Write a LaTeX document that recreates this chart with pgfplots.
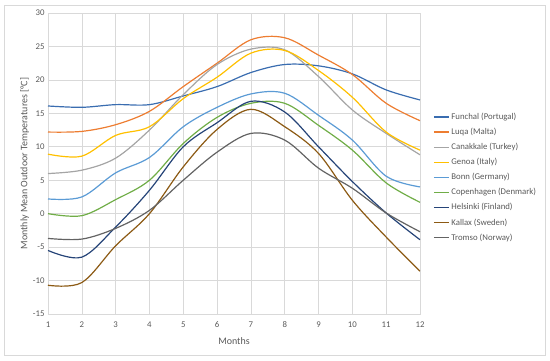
\documentclass[border=0pt]{standalone}
\usepackage{pgfplots}
\pgfplotsset{compat=1.18}
\usepackage{fontspec}
\setmainfont{Carlito}
\definecolor{cFun}{HTML}{3A6DB0}
\definecolor{cLuq}{HTML}{ED7D31}
\definecolor{cCan}{HTML}{A5A5A5}
\definecolor{cGen}{HTML}{FFC000}
\definecolor{cBon}{HTML}{5B9BD5}
\definecolor{cCop}{HTML}{70AD47}
\definecolor{cHel}{HTML}{264478}
\definecolor{cKal}{HTML}{8C5A14}
\definecolor{cTro}{HTML}{636363}
\definecolor{gridc}{HTML}{D9D9D9}
\definecolor{txt}{HTML}{595959}
\newcommand{\lt}[1]{\textcolor{txt}{#1}}
\begin{document}
\begin{tikzpicture}[x=1bp,y=1bp]
\useasboundingbox (-48,-46) rectangle (502,314);
\draw[gridc, line width=0.8bp] (-44,-41) rectangle (497,309);
\begin{axis}[
  at={(0,0)}, anchor=south west,
  scale only axis, width=372bp, height=301bp,
  xmin=1, xmax=12, ymin=-15, ymax=30,
  xtick={1,...,12}, ytick={-15,-10,...,30},
  grid=major, grid style={gridc, line width=0.6bp},
  axis line style={gridc},
  tick style={draw=none},
  ticklabel style={font=\fontsize{8.8}{10}\selectfont, text=txt},
  xticklabel style={yshift=-4bp},
  /pgf/number format/assume math mode=true,
  xlabel={Months}, ylabel={Monthly Mean Outdoor Temperatures [°C]},
  xlabel style={font=\fontsize{10}{11}\selectfont, text=txt, yshift=-3bp},
  ylabel style={font=\fontsize{10}{11}\selectfont, text=txt, yshift=-3bp},
  legend style={draw=none, fill=none, at={(1.035,0.675)}, anchor=north west,
    font=\fontsize{8.8}{10}\selectfont, row sep=3.2bp,
    legend cell align=left, inner sep=0pt},
  legend image code/.code={\draw[#1, line width=1.2bp] (0bp,0bp) -- (15bp,0bp);},
  every axis plot/.append style={line width=1.2bp, smooth, tension=0.55, mark=none},
]
\addplot[cFun] coordinates {(1,16.1)(2,15.9)(3,16.3)(4,16.3)(5,17.6)(6,19.0)(7,21.1)(8,22.3)(9,22.1)(10,20.9)(11,18.5)(12,17.0)};
\addlegendentry{\lt{Funchal (Portugal)}}
\addplot[cLuq] coordinates {(1,12.2)(2,12.3)(3,13.3)(4,15.3)(5,19.0)(6,22.5)(7,26.0)(8,26.3)(9,23.7)(10,20.8)(11,16.5)(12,13.9)};
\addlegendentry{\lt{Luqa (Malta)}}
\addplot[cCan] coordinates {(1,6.0)(2,6.5)(3,8.3)(4,12.5)(5,17.8)(6,22.3)(7,24.6)(8,24.5)(9,20.5)(10,15.5)(11,12.0)(12,8.8)};
\addlegendentry{\lt{Canakkale (Turkey)}}
\addplot[cGen] coordinates {(1,8.9)(2,8.6)(3,11.7)(4,13.0)(5,17.2)(6,20.4)(7,24.0)(8,24.4)(9,21.4)(10,17.4)(11,12.2)(12,9.5)};
\addlegendentry{\lt{Genoa (Italy)}}
\addplot[cBon] coordinates {(1,2.2)(2,2.5)(3,6.1)(4,8.4)(5,13.0)(6,15.9)(7,17.9)(8,18.0)(9,14.7)(10,11.0)(11,5.6)(12,4.0)};
\addlegendentry{\lt{Bonn (Germany)}}
\addplot[cCop] coordinates {(1,0.0)(2,-0.3)(3,2.1)(4,5.0)(5,10.5)(6,14.4)(7,16.5)(8,16.5)(9,13.2)(10,9.5)(11,4.6)(12,1.7)};
\addlegendentry{\lt{Copenhagen (Denmark)}}
\addplot[cHel] coordinates {(1,-5.5)(2,-6.5)(3,-2.0)(4,3.5)(5,10.0)(6,13.6)(7,16.8)(8,15.2)(9,10.0)(10,4.8)(11,0.1)(12,-3.9)};
\addlegendentry{\lt{Helsinki (Finland)}}
\addplot[cKal] coordinates {(1,-10.7)(2,-10.3)(3,-4.8)(4,0.0)(5,7.0)(6,12.6)(7,15.6)(8,13.0)(9,9.0)(10,2.0)(11,-3.5)(12,-8.6)};
\addlegendentry{\lt{Kallax (Sweden)}}
\addplot[cTro] coordinates {(1,-3.7)(2,-3.8)(3,-2.2)(4,0.5)(5,5.0)(6,9.2)(7,12.0)(8,11.0)(9,6.8)(10,3.8)(11,0.1)(12,-2.7)};
\addlegendentry{\lt{Tromso (Norway)}}
\end{axis}
\end{tikzpicture}
\end{document}
